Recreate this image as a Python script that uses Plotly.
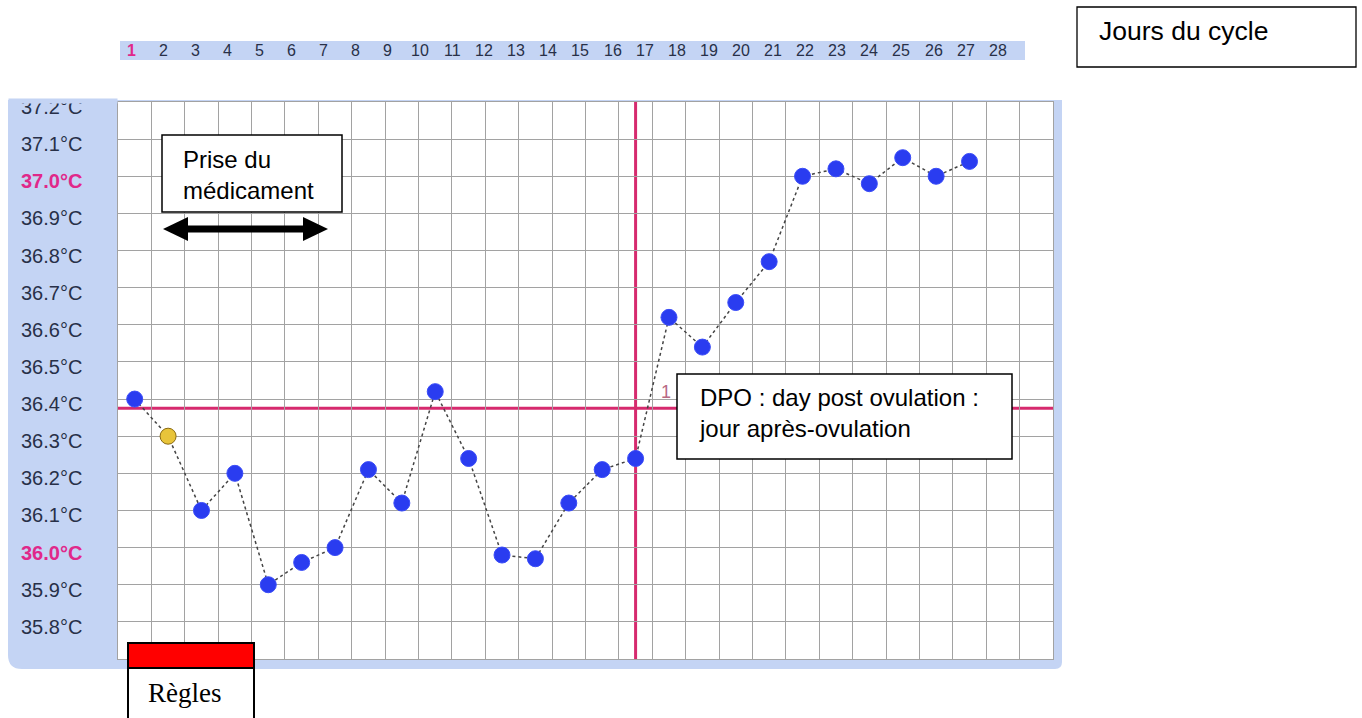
import plotly.graph_objects as go

# ---------------- data ----------------
days = list(range(1, 27))
temps = [36.40, 36.30, 36.10, 36.20, 35.90, 35.96, 36.00, 36.21, 36.12, 36.42,
         36.24, 35.98, 35.97, 36.12, 36.21, 36.24, 36.62, 36.54, 36.66, 36.77,
         37.00, 37.02, 36.98, 37.05, 37.00, 37.04]
highlight_day = 2            # yellow point
ovulation_day = 16           # vertical red line
coverline = 36.375           # horizontal red line
dpo_label = "1"
dpo_label_day = 16.9
dpo_label_temp = 36.42

y_tick_values = [37.2, 37.1, 37.0, 36.9, 36.8, 36.7, 36.6, 36.5, 36.4, 36.3,
                 36.2, 36.1, 36.0, 35.9, 35.8]
y_tick_labels = ["37.2°C", "37.1°C", "37.0°C", "36.9°C", "36.8°C", "36.7°C",
                 "36.6°C", "36.5°C", "36.4°C", "36.3°C", "36.2°C", "36.1°C",
                 "36.0°C", "35.9°C", "35.8°C"]
y_tick_bold = ["37.0°C", "36.0°C"]
cycle_days = [str(d) for d in range(1, 29)]

# ---------------- geometry helpers (pixel -> paper) ----------------
W, H = 1362, 718
PL, PR, PT, PB = 118, 1053, 102, 659
PW, PH = PR - PL, PB - PT


def px(x):
    return (x - PL) / PW


def py(y):
    return (PB - y) / PH


BLUE = "#c4d4f4"
RED = "#d62a6e"
PINK = "#e0288a"
NAVY = "#283048"
SANS = "Liberation Sans, Arial"

fig = go.Figure()

marker_colors = ["#e8c43a" if d == highlight_day else "#2a3cf0" for d in days]
marker_lines = ["#8a6a10" if d == highlight_day else "#3a4cf8" for d in days]

fig.add_trace(go.Scatter(
    x=days, y=temps, mode="lines+markers",
    line=dict(color="#444444", width=1.5, dash="dot"),
    marker=dict(size=16, color=marker_colors, line=dict(color=marker_lines, width=1)),
    hoverinfo="skip", showlegend=False,
))

shapes = []
# blue panel with rounded bottom-left corner
r = 14
panel = (f"M {px(8)},{py(100)} L {px(1062)},{py(100)} L {px(1062)},{py(662)} "
         f"Q {px(1062)},{py(669)} {px(1055)},{py(669)} L {px(8 + r)},{py(669)} "
         f"Q {px(8)},{py(669)} {px(8)},{py(669 - r)} Z")
shapes.append(dict(type="path", xref="paper", yref="paper", path=panel,
                   fillcolor=BLUE, line=dict(width=0), layer="below"))
shapes.append(dict(type="rect", xref="paper", yref="paper", x0=0, x1=1, y0=0, y1=1,
                   fillcolor="white", line=dict(width=0), layer="below"))

# ovulation line and coverline
shapes.append(dict(type="line", xref="x", yref="paper", x0=ovulation_day, x1=ovulation_day,
                   y0=0, y1=1, line=dict(color=RED, width=3), layer="between"))
shapes.append(dict(type="line", xref="paper", yref="y", x0=0, x1=1,
                   y0=coverline, y1=coverline, line=dict(color=RED, width=3), layer="between"))

# top cycle-day strip
shapes.append(dict(type="rect", xref="paper", yref="paper", x0=px(120), x1=px(1025),
                   y0=py(60), y1=py(41), fillcolor=BLUE, line=dict(width=0)))

# "Jours du cycle" box
shapes.append(dict(type="rect", xref="paper", yref="paper", x0=px(1077), x1=px(1356),
                   y0=py(67), y1=py(7), fillcolor="white",
                   line=dict(color="black", width=1.3)))

# "Prise du médicament" box
shapes.append(dict(type="rect", xref="paper", yref="paper", x0=px(162), x1=px(342),
                   y0=py(212), y1=py(135), fillcolor="white",
                   line=dict(color="black", width=1.5), layer="above"))

# double arrow
ay = 229
shapes.append(dict(type="line", xref="paper", yref="paper", x0=px(180), x1=px(312),
                   y0=py(ay), y1=py(ay), line=dict(color="black", width=7), layer="above"))
left_tri = (f"M {px(163)},{py(ay)} L {px(188)},{py(ay - 12)} "
            f"L {px(188)},{py(ay + 12)} Z")
right_tri = (f"M {px(328)},{py(ay)} L {px(303)},{py(ay - 12)} "
             f"L {px(303)},{py(ay + 12)} Z")
for p in (left_tri, right_tri):
    shapes.append(dict(type="path", xref="paper", yref="paper", path=p,
                       fillcolor="black", line=dict(width=0), layer="above"))

# DPO box
shapes.append(dict(type="rect", xref="paper", yref="paper", x0=px(677), x1=px(1012),
                   y0=py(459), y1=py(374), fillcolor="white",
                   line=dict(color="black", width=1.5), layer="above"))

# Règles box
shapes.append(dict(type="rect", xref="paper", yref="paper", x0=px(128), x1=px(254),
                   y0=py(668), y1=py(643), fillcolor="#ff0000",
                   line=dict(color="black", width=2), layer="above"))
shapes.append(dict(type="rect", xref="paper", yref="paper", x0=px(128), x1=px(254),
                   y0=py(730), y1=py(668), fillcolor="white",
                   line=dict(color="black", width=2), layer="above"))

annotations = []
# y labels
for v, lab in zip(y_tick_values, y_tick_labels):
    bold = lab in y_tick_bold
    annotations.append(dict(
        xref="paper", yref="y", x=px(19), y=v, xanchor="left", yanchor="middle",
        yshift=-5, showarrow=False,
        text=f"<b>{lab}</b>" if bold else lab,
        font=dict(family=SANS, size=20, color=PINK if bold else NAVY)))
# covers for the clipped top label
annotations.append(dict(xref="paper", yref="paper", x=px(0), y=py(100.5),
                        xanchor="left", yanchor="bottom", text=" ", showarrow=False,
                        width=116, height=40, bgcolor="white", borderpad=0,
                        font=dict(size=10)))
annotations.append(dict(xref="paper", yref="paper", x=px(8), y=py(104.5),
                        xanchor="left", yanchor="bottom", text=" ", showarrow=False,
                        width=108, height=4, bgcolor=BLUE, borderpad=0,
                        font=dict(size=2)))

# top cycle-day labels
for i, lab in enumerate(cycle_days):
    annotations.append(dict(
        xref="paper", yref="paper", x=px(131 + i * 32.1), y=py(50.5),
        xanchor="center", yanchor="middle", showarrow=False,
        text=f"<b>{lab}</b>" if i == 0 else lab,
        font=dict(family=SANS, size=16, color=PINK if i == 0 else NAVY)))

annotations.append(dict(xref="paper", yref="paper", x=px(1097), y=py(31),
                        xanchor="left", yanchor="middle", showarrow=False,
                        text="Jours du cycle",
                        font=dict(family=SANS, size=26.5, color="black")))
annotations.append(dict(xref="paper", yref="paper", x=px(181), y=py(175),
                        xanchor="left", yanchor="middle", showarrow=False, align="left",
                        text="Prise du<br>médicament",
                        font=dict(family=SANS, size=24, color="black")))
annotations.append(dict(xref="paper", yref="paper", x=px(697), y=py(413),
                        xanchor="left", yanchor="middle", showarrow=False, align="left",
                        text="DPO : day post ovulation :<br>jour après-ovulation",
                        font=dict(family=SANS, size=24, color="black")))
annotations.append(dict(xref="paper", yref="paper", x=px(185), y=py(693),
                        xanchor="center", yanchor="middle", showarrow=False,
                        text="Règles",
                        font=dict(family="Liberation Serif, Times New Roman", size=27,
                                  color="black")))
annotations.append(dict(xref="x", yref="y", x=dpo_label_day, y=dpo_label_temp,
                        xanchor="center", yanchor="middle", showarrow=False,
                        text=dpo_label,
                        font=dict(family=SANS, size=18, color="#b86a84")))

fig.update_layout(
    width=W, height=H,
    margin=dict(l=PL, r=W - PR, t=PT, b=H - PB, pad=0),
    paper_bgcolor="white", plot_bgcolor="white",
    showlegend=False,
    shapes=shapes, annotations=annotations,
    xaxis=dict(range=[0.5, 28.5], tick0=0.5, dtick=1, showgrid=True,
               gridcolor="#a2a2a2", gridwidth=1, showticklabels=False, ticks="",
               zeroline=False, showline=True, linecolor="#a2a2a2", mirror=True,
               fixedrange=True),
    yaxis=dict(range=[35.7, 37.2], tick0=35.7, dtick=0.1, showgrid=True,
               gridcolor="#a2a2a2", gridwidth=1, showticklabels=False, ticks="",
               zeroline=False, showline=True, linecolor="#a2a2a2", mirror=True,
               fixedrange=True),
)

fig.write_html("out.html", config={"displayModeBar": False},
               post_script="document.body.style.margin='0';"
                           "document.body.style.overflow='hidden';")
